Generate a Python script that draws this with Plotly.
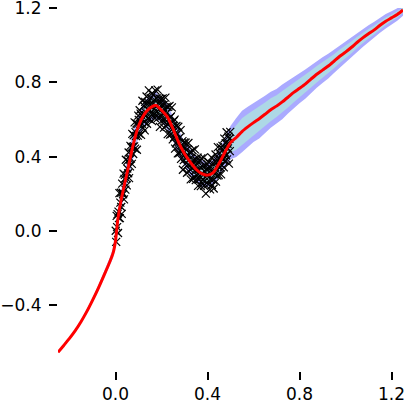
import numpy as np
import plotly.graph_objects as go

# posterior summary on a grid
grid_x = [-0.25, -0.225, -0.2, -0.175, -0.15, -0.125, -0.1, -0.075, -0.05, -0.025,
          -0.01, 0.0, 0.01, 0.025, 0.05, 0.075, 0.1, 0.125, 0.15, 0.175,
          0.2, 0.225, 0.25, 0.275, 0.3, 0.325, 0.35, 0.375, 0.4, 0.425,
          0.45, 0.475, 0.5, 0.525, 0.55, 0.575, 0.6, 0.625, 0.65, 0.675,
          0.7, 0.725, 0.75, 0.775, 0.8, 0.825, 0.85, 0.875, 0.9, 0.925,
          0.95, 0.975, 1.0, 1.025, 1.05, 1.075, 1.1, 1.125, 1.15, 1.175,
          1.2, 1.225, 1.25]
mean_y = [-0.655, -0.618, -0.58, -0.538, -0.49, -0.436, -0.375, -0.31, -0.24, -0.168,
          -0.118, -0.055, 0.06, 0.17, 0.31, 0.454, 0.565, 0.628, 0.662, 0.677,
          0.65, 0.615, 0.55, 0.475, 0.415, 0.37, 0.332, 0.308, 0.300, 0.314,
          0.362, 0.422, 0.475, 0.503, 0.535, 0.560, 0.583, 0.604, 0.628, 0.653,
          0.672, 0.695, 0.72, 0.746, 0.768, 0.791, 0.818, 0.844, 0.866, 0.888,
          0.914, 0.941, 0.963, 0.988, 1.015, 1.040, 1.062, 1.083, 1.108, 1.130,
          1.148, 1.166, 1.19]
outer_w = [0.003, 0.004, 0.005, 0.006, 0.008, 0.010, 0.012, 0.015, 0.019, 0.023,
           0.026, 0.030, 0.045, 0.050, 0.065, 0.072, 0.060, 0.070, 0.066, 0.074,
           0.062, 0.071, 0.065, 0.073, 0.061, 0.070, 0.066, 0.074, 0.063, 0.070,
           0.068, 0.078, 0.090, 0.105, 0.112, 0.108, 0.104, 0.106, 0.100, 0.097,
           0.093, 0.094, 0.088, 0.085, 0.081, 0.079, 0.075, 0.073, 0.069, 0.067,
           0.063, 0.061, 0.057, 0.055, 0.052, 0.049, 0.046, 0.044, 0.041, 0.039,
           0.036, 0.034, 0.031]
inner_w = [0.001, 0.002, 0.002, 0.003, 0.004, 0.005, 0.006, 0.008, 0.010, 0.012,
           0.014, 0.016, 0.025, 0.030, 0.040, 0.044, 0.036, 0.042, 0.039, 0.045,
           0.037, 0.043, 0.040, 0.044, 0.036, 0.042, 0.040, 0.045, 0.038, 0.042,
           0.041, 0.048, 0.056, 0.066, 0.072, 0.070, 0.067, 0.066, 0.063, 0.062,
           0.059, 0.058, 0.055, 0.053, 0.050, 0.048, 0.046, 0.044, 0.042, 0.040,
           0.038, 0.036, 0.034, 0.032, 0.030, 0.028, 0.026, 0.024, 0.022, 0.020,
           0.018, 0.017, 0.015]

# observations
obs_x = [0.001, 0.003, 0.005, 0.007, 0.009, 0.011, 0.013, 0.015, 0.017, 0.019,
         0.021, 0.023, 0.025, 0.027, 0.029, 0.031, 0.033, 0.035, 0.037, 0.039,
         0.041, 0.043, 0.045, 0.047, 0.049, 0.051, 0.053, 0.055, 0.057, 0.059,
         0.061, 0.063, 0.065, 0.067, 0.069, 0.071, 0.073, 0.075, 0.077, 0.079,
         0.081, 0.083, 0.085, 0.087, 0.089, 0.091, 0.093, 0.095, 0.097, 0.099,
         0.101, 0.103, 0.105, 0.107, 0.109, 0.111, 0.113, 0.115, 0.117, 0.119,
         0.121, 0.123, 0.125, 0.127, 0.129, 0.131, 0.133, 0.135, 0.137, 0.139,
         0.141, 0.143, 0.145, 0.147, 0.149, 0.151, 0.153, 0.155, 0.157, 0.159,
         0.161, 0.163, 0.165, 0.167, 0.169, 0.171, 0.173, 0.175, 0.177, 0.179,
         0.181, 0.183, 0.185, 0.187, 0.189, 0.191, 0.193, 0.195, 0.197, 0.199,
         0.201, 0.203, 0.205, 0.207, 0.209, 0.211, 0.213, 0.215, 0.217, 0.219,
         0.221, 0.223, 0.225, 0.227, 0.229, 0.231, 0.233, 0.235, 0.237, 0.239,
         0.241, 0.243, 0.245, 0.247, 0.249, 0.251, 0.253, 0.255, 0.257, 0.259,
         0.261, 0.263, 0.265, 0.267, 0.269, 0.271, 0.273, 0.275, 0.277, 0.279,
         0.281, 0.283, 0.285, 0.287, 0.289, 0.291, 0.293, 0.295, 0.297, 0.299,
         0.301, 0.303, 0.305, 0.307, 0.309, 0.311, 0.313, 0.315, 0.317, 0.319,
         0.321, 0.323, 0.325, 0.327, 0.329, 0.331, 0.333, 0.335, 0.337, 0.339,
         0.341, 0.343, 0.345, 0.347, 0.349, 0.351, 0.353, 0.355, 0.357, 0.359,
         0.361, 0.363, 0.365, 0.367, 0.369, 0.371, 0.373, 0.375, 0.377, 0.379,
         0.381, 0.383, 0.385, 0.387, 0.389, 0.391, 0.393, 0.395, 0.397, 0.399,
         0.401, 0.403, 0.405, 0.407, 0.409, 0.411, 0.413, 0.415, 0.417, 0.419,
         0.421, 0.423, 0.425, 0.427, 0.429, 0.431, 0.433, 0.435, 0.437, 0.439,
         0.441, 0.443, 0.445, 0.447, 0.449, 0.451, 0.453, 0.455, 0.457, 0.459,
         0.461, 0.463, 0.465, 0.467, 0.469, 0.471, 0.473, 0.475, 0.477, 0.479,
         0.481, 0.483, 0.485, 0.487, 0.489, 0.491, 0.493, 0.495, 0.497, 0.499]
obs_y = [0.000, -0.060, 0.080, 0.020, 0.090, -0.012, 0.103, 0.068, 0.203, 0.068,
         0.152, 0.205, 0.128, 0.091, 0.254, 0.206, 0.197, 0.308, 0.169, 0.280,
         0.301, 0.222, 0.383, 0.284, 0.245, 0.336, 0.378, 0.310, 0.422, 0.284,
         0.386, 0.347, 0.458, 0.389, 0.450, 0.361, 0.522, 0.453, 0.414, 0.515,
         0.455, 0.584, 0.443, 0.532, 0.511, 0.579, 0.437, 0.575, 0.513, 0.621,
         0.598, 0.524, 0.650, 0.576, 0.632, 0.517, 0.622, 0.577, 0.701, 0.556,
         0.630, 0.674, 0.588, 0.541, 0.695, 0.638, 0.621, 0.724, 0.577, 0.680,
         0.692, 0.604, 0.757, 0.649, 0.601, 0.683, 0.715, 0.637, 0.739, 0.591,
         0.683, 0.634, 0.735, 0.656, 0.707, 0.608, 0.757, 0.676, 0.625, 0.714,
         0.643, 0.761, 0.609, 0.687, 0.655, 0.713, 0.560, 0.687, 0.614, 0.711,
         0.679, 0.596, 0.714, 0.631, 0.678, 0.556, 0.653, 0.601, 0.718, 0.565,
         0.632, 0.669, 0.575, 0.521, 0.668, 0.603, 0.578, 0.673, 0.518, 0.613,
         0.617, 0.521, 0.665, 0.549, 0.493, 0.567, 0.591, 0.505, 0.599, 0.443,
         0.527, 0.471, 0.565, 0.479, 0.523, 0.417, 0.561, 0.475, 0.419, 0.503,
         0.428, 0.543, 0.388, 0.463, 0.428, 0.483, 0.329, 0.455, 0.381, 0.477,
         0.443, 0.359, 0.475, 0.391, 0.437, 0.313, 0.410, 0.357, 0.473, 0.320,
         0.386, 0.423, 0.330, 0.277, 0.424, 0.360, 0.337, 0.434, 0.280, 0.377,
         0.384, 0.291, 0.439, 0.326, 0.273, 0.351, 0.379, 0.297, 0.394, 0.242,
         0.330, 0.278, 0.377, 0.295, 0.343, 0.241, 0.390, 0.309, 0.257, 0.346,
         0.275, 0.394, 0.243, 0.322, 0.291, 0.351, 0.200, 0.330, 0.260, 0.360,
         0.330, 0.251, 0.371, 0.291, 0.342, 0.223, 0.324, 0.275, 0.396, 0.247,
         0.319, 0.362, 0.275, 0.228, 0.381, 0.324, 0.307, 0.411, 0.265, 0.368,
         0.382, 0.297, 0.451, 0.345, 0.300, 0.384, 0.419, 0.344, 0.449, 0.304,
         0.398, 0.353, 0.458, 0.383, 0.438, 0.342, 0.497, 0.422, 0.377, 0.472,
         0.406, 0.531, 0.385, 0.469, 0.444, 0.508, 0.362, 0.496, 0.429, 0.533]

x_ticks = [0.0, 0.4, 0.8, 1.2]
y_ticks = [-0.4, 0.0, 0.4, 0.8, 1.2]

m = np.array(mean_y)
ow = np.array(outer_w)
iw = np.array(inner_w)

fig = go.Figure()

# outer band
fig.add_trace(go.Scatter(x=grid_x, y=m - ow, mode='lines', line=dict(width=0),
                         hoverinfo='skip', showlegend=False))
fig.add_trace(go.Scatter(x=grid_x, y=m + ow, mode='lines', line=dict(width=0),
                         fill='tonexty', fillcolor='#AAAAFF',
                         hoverinfo='skip', showlegend=False))
# inner band
fig.add_trace(go.Scatter(x=grid_x, y=m - iw, mode='lines', line=dict(width=0),
                         hoverinfo='skip', showlegend=False))
fig.add_trace(go.Scatter(x=grid_x, y=m + iw, mode='lines', line=dict(width=0),
                         fill='tonexty', fillcolor='#ADD8E6',
                         hoverinfo='skip', showlegend=False))

fig.add_trace(go.Scatter(
    x=obs_x, y=obs_y, mode='markers',
    marker=dict(symbol='x-thin-open', size=8, color='black',
                line=dict(width=1.2, color='black')),
    showlegend=False
))

fig.add_trace(go.Scatter(
    x=grid_x, y=mean_y, mode='lines',
    line=dict(color='#FF0000', width=3, shape='spline', smoothing=0.6),
    showlegend=False
))

axis_font = dict(family='DejaVu Sans, sans-serif', size=17, color='black')

fig.update_layout(
    width=407, height=403,
    margin=dict(l=58, r=4, t=8, b=32),
    plot_bgcolor='white', paper_bgcolor='white',
    xaxis=dict(range=[-0.25, 1.25], tickvals=x_ticks, tickformat='.1f',
               showgrid=False, zeroline=False, showline=False,
               ticks='outside', ticklen=8, tickwidth=2, tickcolor='black',
               tickfont=axis_font, anchor='free', position=0,
               automargin=False, ticklabeloverflow='allow',
               ticklabelstandoff=0),
    yaxis=dict(range=[-0.66, 1.201], tickvals=y_ticks, tickformat='.1f',
               domain=[0.049, 1],
               showgrid=False, zeroline=False, showline=False,
               ticks='outside', ticklen=8, tickwidth=2, tickcolor='black',
               tickfont=axis_font, automargin=False, ticklabeloverflow='allow',
               ticklabelstandoff=4),
)

# page has a default body margin; drop it so the figure sits at the corner
fig.write_html("out.html", config={'displayModeBar': False},
               post_script="document.body.style.margin='0';document.body.style.overflow='hidden';")
